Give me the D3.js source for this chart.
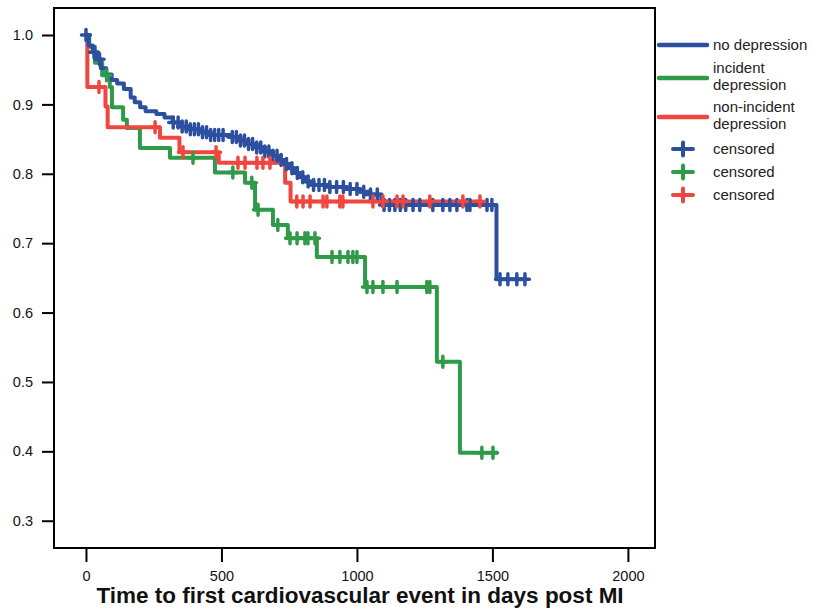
<!DOCTYPE html>
<html><head><meta charset="utf-8">
<script src="https://cdn.jsdelivr.net/npm/d3@7"></script>
<style>
html,body{margin:0;padding:0;background:#fff;}
svg text{font-family:"Liberation Sans",Arial,Helvetica,sans-serif;}
</style>
</head><body>
<svg id="chart" width="813" height="609"></svg>
<script>
// ---- data ----
const seriesNames = ["no depression", "incident depression", "non-incident depression"];
const seriesColors = ["#2d4f9f", "#2f9b48", "#f0463f"];

// no depression: event times and survival after each event
const blueTimes = [10,25,40,55,75,95,115,140,165,180,200,220,260,290,320,350,385,420,460,530,570,595,630,660,690,710,730,750,770,790,810,840,900,960,1010,1050,1090,1100,1515];
const blueSurv  = [0.985,0.975,0.965,0.952,0.943,0.935,0.93,0.922,0.91,0.903,0.896,0.89,0.886,0.881,0.874,0.868,0.864,0.86,0.856,0.853,0.848,0.843,0.838,0.832,0.826,0.82,0.814,0.808,0.801,0.795,0.789,0.784,0.781,0.778,0.774,0.77,0.762,0.755,0.648];
const blueEnd = 1627;
const blueCensor = [0,30,50,322,340,355,370,385,400,415,430,445,460,475,490,506,540,555,570,585,600,615,630,645,660,675,690,705,720,740,760,780,800,820,840,860,880,900,925,950,975,1000,1025,1050,1075,1100,1120,1140,1160,1180,1207,1232,1280,1317,1343,1369,1406,1417,1480,1498,1528,1557,1590,1620];

// incident depression
const greenTimes = [12,33,60,88,96,137,151,199,310,476,587,624,690,745,852,1030,1295,1380];
const greenSurv  = [0.983,0.96,0.942,0.925,0.896,0.878,0.866,0.837,0.823,0.802,0.787,0.748,0.726,0.707,0.68,0.637,0.529,0.398];
const greenEnd = 1520;
const greenCensor = [76,395,542,612,635,708,753,779,808,819,845,908,937,967,985,1000,1037,1059,1096,1148,1258,1269,1317,1461,1502];

// non-incident depression
const redTimes = [5,72,80,273,345,490,735,755];
const redSurv  = [0.925,0.897,0.867,0.852,0.831,0.816,0.787,0.76];
const redEnd = 1460;
const redCensor = [48,255,358,480,561,587,631,653,679,778,801,827,875,889,937,948,1059,1096,1148,1170,1269,1391,1454];

const xTicks = [0,500,1000,1500,2000];
const yTicks = [0.3,0.4,0.5,0.6,0.7,0.8,0.9,1.0];
const xTitle = "Time to first cardiovascular event in days post MI";
const legendCensorLabel = "censored";

// ---- layout ----
const svg = d3.select("#chart");
const frame = {left:54, right:655, top:8, bottom:548};
const x = d3.scaleLinear().domain([-118, 2100]).range([frame.left, frame.right]);
const y = d3.scaleLinear().domain([0.2607, 1.0389]).range([frame.bottom, frame.top]);

// frame
svg.append("rect").attr("x", frame.left).attr("y", frame.top)
  .attr("width", frame.right-frame.left).attr("height", frame.bottom-frame.top)
  .attr("fill","none").attr("stroke","#000").attr("stroke-width",2);

// axes
const yAxis = d3.axisLeft(y).tickValues(yTicks).tickFormat(d3.format(".1f")).tickSize(12).tickPadding(9);
const gy = svg.append("g").attr("transform",`translate(${frame.left},0)`).call(yAxis);
gy.select(".domain").remove();
gy.selectAll("line").attr("stroke","#000").attr("stroke-width",2);
gy.selectAll("text").attr("font-size",14.5).attr("fill","#111");

const xAxis = d3.axisBottom(x).tickValues(xTicks).tickFormat(d3.format("d")).tickSize(14).tickPadding(9);
const gx = svg.append("g").attr("transform",`translate(0,${frame.bottom})`).call(xAxis);
gx.select(".domain").remove();
gx.selectAll("line").attr("stroke","#000").attr("stroke-width",2);
gx.selectAll("text").attr("font-size",14.5).attr("fill","#111");

svg.append("text").attr("x", 360).attr("y", 603).attr("text-anchor","middle")
  .attr("font-size",22.5).attr("font-weight","bold").attr("fill","#111").text(xTitle);

// curves
function buildPoints(times, surv, end){
  const pts = [[0,1]];
  times.forEach((t,i)=>pts.push([t, surv[i]]));
  pts.push([end, surv[surv.length-1]]);
  return pts;
}
function survAt(times, surv, t){
  let s = 1;
  for(let i=0;i<times.length;i++){ if(times[i] <= t) s = surv[i]; }
  return s;
}
const line = d3.line().x(d=>x(d[0])).y(d=>y(d[1])).curve(d3.curveStepAfter);
const series = [
  {times:greenTimes, surv:greenSurv, end:greenEnd, censor:greenCensor, color:seriesColors[1]},
  {times:redTimes, surv:redSurv, end:redEnd, censor:redCensor, color:seriesColors[2]},
  {times:blueTimes, surv:blueSurv, end:blueEnd, censor:blueCensor, color:seriesColors[0]}
];
const plotG = svg.append("g");
series.forEach(s=>{
  plotG.append("path").attr("d", line(buildPoints(s.times, s.surv, s.end)))
    .attr("fill","none").attr("stroke", s.color).attr("stroke-width",4)
    .attr("stroke-linejoin","round");
});
function plus(g, cx, cy, hw, hh, color, sw){
  g.append("path").attr("d",`M${cx-hw},${cy}H${cx+hw}M${cx},${cy-hh}V${cy+hh}`)
    .attr("stroke", color).attr("stroke-width", sw).attr("stroke-linecap","round").attr("fill","none");
}
[series[2], series[0], series[1]].forEach(s=>{
  s.censor.forEach(t=>{
    plus(plotG, x(t), y(survAt(s.times, s.surv, t)), 4.5, 5.5, s.color, 3.5);
  });
});

// legend
const lg = svg.append("g");
const legendItems = [
  {lines:["no depression"], ly:45, ty:[50]},
  {lines:["incident","depression"], ly:78, ty:[73,90]},
  {lines:["non-incident","depression"], ly:117, ty:[112,129]}
];
legendItems.forEach((it,i)=>{
  lg.append("line").attr("x1",659).attr("x2",707).attr("y1",it.ly).attr("y2",it.ly)
    .attr("stroke",seriesColors[i]).attr("stroke-width",4.5).attr("stroke-linecap","round");
  it.lines.forEach((t,j)=>{
    lg.append("text").attr("x",713).attr("y",it.ty[j]).attr("font-size",15).attr("fill","#222").text(t);
  });
});
const censorY = [149,172,195];
censorY.forEach((cy,i)=>{
  plus(lg, 683, cy, 10, 6.5, seriesColors[i], 4);
  lg.append("text").attr("x",713).attr("y",cy+5).attr("font-size",15).attr("fill","#222").text(legendCensorLabel);
});
</script>
</body></html>
